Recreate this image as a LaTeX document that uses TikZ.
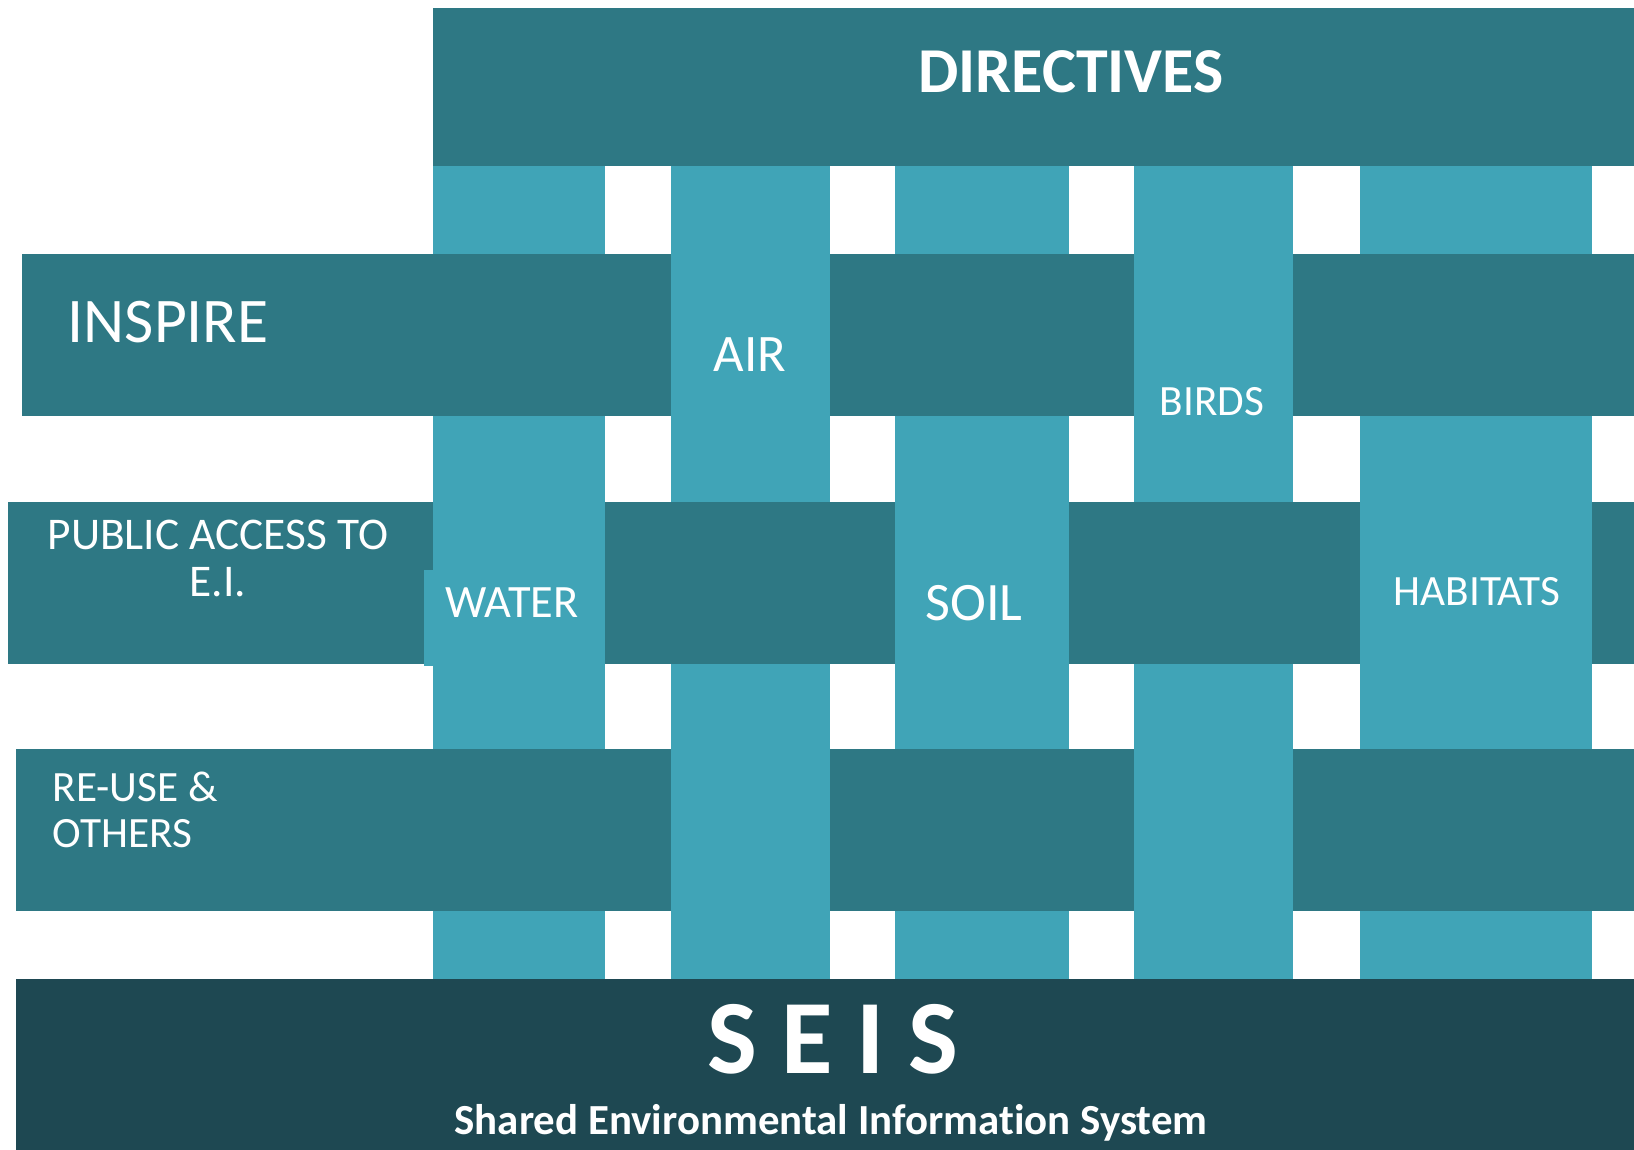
\documentclass[tikz,border=0pt]{standalone}
\usepackage{fontspec}
\setmainfont{Carlito}[Ligatures=NoCommon]
\definecolor{DT}{HTML}{2E7884}
\definecolor{LT}{HTML}{40A4B7}
\definecolor{SB}{HTML}{1E4852}

\begin{document}
\begin{tikzpicture}[x=0.1mm, y=-0.1mm, every node/.style={text=white, inner sep=0},
    lbl/.style={anchor=base, font=\fontsize{12.3}{14}\selectfont}]
    \useasboundingbox (0,0) rectangle (1634,1150);
    % strands that go under INSPIRE and RE-USE
    \foreach \a/\b in {433/605, 895/1069, 1360/1592}
        \fill[LT] (\a,166) rectangle (\b,982);
    \fill[DT] (22,254) rectangle (1634,416);
    \fill[DT] (16,749) rectangle (1634,911);
    % strands that go over them
    \foreach \a/\b in {671/830, 1134/1293}
        \fill[LT] (\a,166) rectangle (\b,982);
    \fill[DT] (8,502) rectangle (1634,664);
    \foreach \a/\b in {433/605, 895/1069, 1360/1592}
        \fill[LT] (\a,416) rectangle (\b,749);
    \fill[LT] (424,570) rectangle (605,666);
    \fill[DT] (433,8) rectangle (1634,166);
    \fill[SB] (16,979) rectangle (1634,1150);
    % labels
    \node[anchor=base, font=\bfseries\fontsize{18.2}{20}\selectfont] (dir) at (1071,92) {DIRECTIVES};
    \node[anchor=base west, font=\fontsize{18.1}{20}\selectfont] (insp) at (67,342) {INSPIRE};
    \node[lbl, font=\fontsize{12.9}{15}\selectfont] (pub) at (218,549) {PUBLIC ACCESS TO};
    \node[lbl, font=\fontsize{12.9}{15}\selectfont] (ei) at (218,596) {E.I.};
    \node[lbl, anchor=base west] (reuse) at (52,801) {RE-USE \&};
    \node[lbl, anchor=base west] (oth) at (52,847) {OTHERS};
    \node[lbl, font=\fontsize{15}{18}\selectfont] (air) at (750,371) {AIR};
    \node[lbl, font=\fontsize{13.2}{16}\selectfont] (water) at (512,617) {WATER};
    \node[lbl, font=\fontsize{15.4}{18}\selectfont] (soil) at (974,620) {SOIL};
    \node[lbl] (birds) at (1212,415) {BIRDS};
    \node[lbl] (hab) at (1477,605) {HABITATS};
    \node[anchor=base, font=\bfseries\fontsize{30}{34}\selectfont] (seis) at (833,1073) {S E I S};
    \node[anchor=base, font=\bfseries\fontsize{12.2}{14}\selectfont] (full) at (831,1134) {Shared Environmental Information System};
\end{tikzpicture}
\end{document}
